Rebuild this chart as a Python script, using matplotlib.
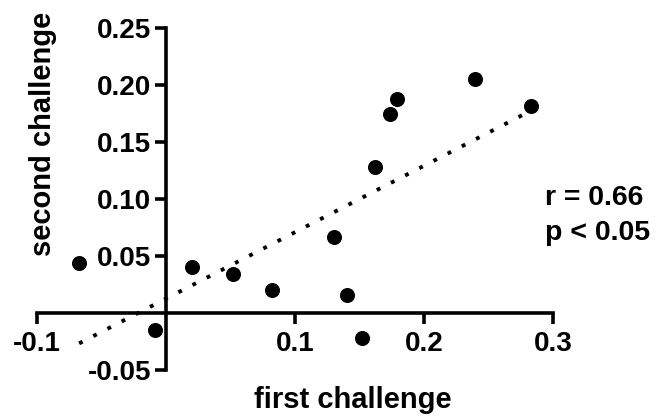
import numpy as np
import matplotlib
matplotlib.use("Agg")
import matplotlib.pyplot as plt

# data
first_challenge = [-0.067, -0.008, 0.0206, 0.0523, 0.0825, 0.1306, 0.1404,
                   0.152, 0.1623, 0.1739, 0.1791, 0.2396, 0.2826]
second_challenge = [0.0438, -0.015, 0.0408, 0.0342, 0.0204, 0.0666, 0.016,
                    -0.0216, 0.1284, 0.1752, 0.1875, 0.2059, 0.1816]

x_ticks = [-0.1, 0.1, 0.2, 0.3]
x_tick_labels = ["-0.1", "0.1", "0.2", "0.3"]
y_ticks = [-0.05, 0.05, 0.10, 0.15, 0.20, 0.25]
y_tick_labels = ["-0.05", "0.05", "0.10", "0.15", "0.20", "0.25"]
stats_lines = ["r = 0.66", "p < 0.05"]

plt.rcParams['font.family'] = ['Liberation Sans', 'DejaVu Sans']
plt.rcParams['font.weight'] = 'bold'

W, H = 656, 418
fig = plt.figure(figsize=(W / 100, H / 100), dpi=100)
x0, x1 = 36.5, 553.0
y_top, y_bot = 28.2, 370.4
ax = fig.add_axes([x0 / W, 1 - y_bot / H, (x1 - x0) / W, (y_bot - y_top) / H])
ax.set_xlim(-0.1, 0.3)
ax.set_ylim(-0.05, 0.25)
ax.patch.set_alpha(0)

for s in ['top', 'right']:
    ax.spines[s].set_visible(False)
ax.spines['left'].set_position(('data', 0))
ax.spines['bottom'].set_position(('data', 0))
ax.spines['left'].set_linewidth(2.6)
ax.spines['bottom'].set_linewidth(2.6)
ax.spines['left'].set_bounds(-0.05, 0.25)
ax.spines['bottom'].set_bounds(-0.1, 0.3)

ax.set_xticks(x_ticks)
ax.set_xticklabels(x_tick_labels)
ax.set_yticks(y_ticks)
ax.set_yticklabels(y_tick_labels)
ax.tick_params(axis='both', direction='out', length=8, width=2.6,
               labelsize=20, colors='black')
ax.tick_params(axis='x', pad=4.5)
ax.tick_params(axis='y', pad=2.5)
for lab in ax.get_xticklabels() + ax.get_yticklabels():
    lab.set_fontweight('bold')

# regression line
xa = np.array(first_challenge)
ya = np.array(second_challenge)
slope, intercept = np.polyfit(xa, ya, 1)
xl = np.array([xa.min(), xa.max()])
ax.plot(xl, slope * xl + intercept, color='black', lw=2.8,
        linestyle=(0, (1, 3.1)), dash_capstyle='butt', clip_on=False, zorder=2)

ax.plot(first_challenge, second_challenge, 'o', color='black', ms=9.8,
        clip_on=False, zorder=3)

fig.text(0.538, 1 - 400 / H, "first challenge", ha='center', va='center',
         fontsize=21, fontweight='bold')
fig.text(43 / W, 1 - 134 / H, "second challenge", ha='center', va='center',
         rotation=90, fontsize=21, fontweight='bold')

fig.text(545 / W, 1 - 205 / H, stats_lines[0], ha='left', va='baseline',
         fontsize=20.5, fontweight='bold')
fig.text(545 / W, 1 - 240 / H, stats_lines[1], ha='left', va='baseline',
         fontsize=20.5, fontweight='bold')

fig.savefig("out.png", dpi=100)
